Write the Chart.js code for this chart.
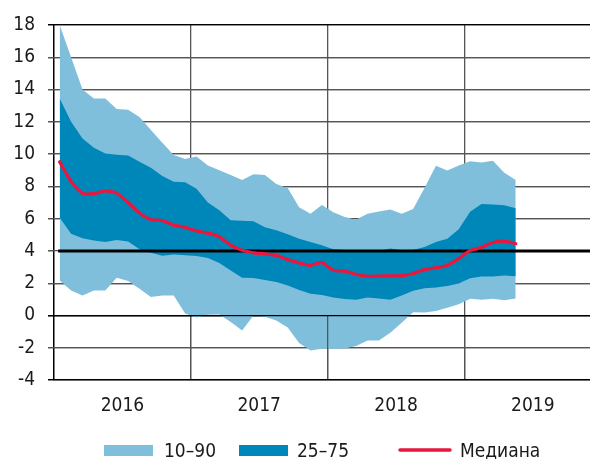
<!DOCTYPE html>
<html><head><meta charset="utf-8">
<script src="https://cdn.jsdelivr.net/npm/chart.js@4/dist/chart.umd.min.js"></script>
<style>html,body{margin:0;padding:0;background:#fff}#wrap{width:590px;height:459px}</style>
</head><body><div id="wrap"><canvas id="c" width="590" height="459"></canvas></div>
<script>
const months = ['2016-01','2016-02','2016-03','2016-04','2016-05','2016-06','2016-07','2016-08','2016-09','2016-10','2016-11','2016-12',
'2017-01','2017-02','2017-03','2017-04','2017-05','2017-06','2017-07','2017-08','2017-09','2017-10','2017-11','2017-12',
'2018-01','2018-02','2018-03','2018-04','2018-05','2018-06','2018-07','2018-08','2018-09','2018-10','2018-11','2018-12',
'2019-01','2019-02','2019-03','2019-04','2019-05'];
const years = [2016, 2017, 2018, 2019];
const yTicks = [-4, -2, 0, 2, 4, 6, 8, 10, 12, 14, 16, 18];
const p90 = [18.0,16.0,14.0,13.45,13.45,12.8,12.75,12.3,11.5,10.7,9.95,9.7,9.85,9.3,9.0,8.7,8.4,8.75,8.7,8.15,7.9,6.7,6.3,6.85,6.4,6.1,5.95,6.3,6.45,6.56,6.3,6.6,7.9,9.27,8.98,9.3,9.55,9.48,9.58,8.85,8.39];
const p75 = [13.45,12.0,10.97,10.4,10.04,9.96,9.92,9.52,9.15,8.65,8.28,8.26,7.85,7.0,6.52,5.9,5.87,5.84,5.47,5.28,5.03,4.76,4.55,4.35,4.1,4.05,4.0,4.0,4.0,4.15,4.05,4.05,4.25,4.55,4.76,5.35,6.42,6.9,6.88,6.83,6.65];
const median = [9.52,8.3,7.56,7.55,7.72,7.58,7.0,6.35,5.95,5.88,5.6,5.46,5.24,5.1,4.88,4.35,4.04,3.88,3.82,3.72,3.46,3.26,3.1,3.28,2.8,2.74,2.55,2.43,2.44,2.45,2.46,2.6,2.84,2.96,3.1,3.52,4.02,4.22,4.52,4.6,4.45];
const p25 = [6.05,5.07,4.78,4.64,4.55,4.68,4.58,4.1,3.88,3.7,3.78,3.73,3.68,3.56,3.25,2.78,2.34,2.32,2.2,2.07,1.85,1.58,1.35,1.26,1.12,1.02,0.97,1.12,1.05,0.97,1.24,1.53,1.68,1.74,1.83,1.98,2.3,2.42,2.42,2.48,2.43];
const p10 = [2.17,1.55,1.24,1.55,1.55,2.34,2.13,1.66,1.14,1.24,1.24,0.12,-0.12,0.04,0.06,-0.41,-0.93,0.0,-0.08,-0.31,-0.75,-1.7,-2.17,-2.07,-2.07,-2.07,-1.9,-1.55,-1.55,-1.07,-0.45,0.2,0.18,0.28,0.47,0.7,1.04,0.98,1.04,0.95,1.05];
const targetLevel = 4;
const legendLabels = ['10–90', '25–75', 'Медиана'];

const FONT = "'Liberation Sans Narrow','DejaVu Sans Condensed','Roboto Condensed','Liberation Sans',sans-serif";
const FSIZE = 19;
const LIGHT = '#80bfdc', DARK = '#0087b9', RED = '#e8173e', TXT = '#1a1a1a', GRID = '#555555';
const LW = 1.3;
const toX = m => { const [yy, mo] = m.split('-').map(Number); return yy + (mo - 0.5) / 12; };
const pts = arr => arr.map((v, i) => ({x: toX(months[i]), y: v}));
const xMin = years[0], xMax = years[0] + 3.918;
const NONE = 'rgba(0,0,0,0)';
const band = (data, extra) => Object.assign({data: pts(data), borderColor: NONE, borderWidth: 0, pointRadius: 0, tension: 0, fill: false}, extra);

const xTickVals = [];
years.forEach(v => { xTickVals.push(v); xTickVals.push(v + 0.5); });
const xGridColors = xTickVals.map(v => (v === years[0] ? '#000' : (v % 1 === 0 ? GRID : NONE)));
const yGridColors = yTicks.map(v => (v === 0 || v === 18 || v === -4 ? '#000' : GRID));
const align = p => Math.round(p - LW / 2) + LW / 2;

const overlay = {
  id: 'overlay',
  afterDatasetsDraw(chart) {
    const {ctx, chartArea: a, scales: {x, y}} = chart;
    const y0 = align(y.getPixelForValue(0));
    ctx.save();
    ctx.lineWidth = LW;
    ctx.strokeStyle = GRID;
    years.slice(1).forEach(v => {
      const px = align(x.getPixelForValue(v));
      ctx.beginPath(); ctx.moveTo(px, y0); ctx.lineTo(px, a.bottom); ctx.stroke();
    });
    ctx.restore();
  },
  afterDraw(chart) {
    const {ctx, chartArea: a, scales: {x, y}} = chart;
    // horizontal grid lines, kept outside the 10–90 band
    const top = chart.getDatasetMeta(0).data;
    const bot = chart.getDatasetMeta(1).data;
    ctx.save();
    ctx.beginPath();
    ctx.rect(a.left - 10, a.top - 5, a.right - a.left + 20, a.bottom - a.top + 10);
    ctx.moveTo(top[0].x, top[0].y);
    top.forEach(p => ctx.lineTo(p.x, p.y));
    for (let i = bot.length - 1; i >= 0; i--) ctx.lineTo(bot[i].x, bot[i].y);
    ctx.closePath();
    ctx.clip('evenodd');
    ctx.lineWidth = LW;
    yTicks.forEach((v, i) => {
      if (v === targetLevel) return;
      const py = align(y.getPixelForValue(v));
      ctx.strokeStyle = yGridColors[i];
      ctx.beginPath(); ctx.moveTo(a.left - 6, py); ctx.lineTo(a.right, py); ctx.stroke();
    });
    ctx.restore();
    // tick mark at 4 and the zero line on top
    ctx.save();
    ctx.lineWidth = LW;
    ctx.strokeStyle = GRID;
    const p4 = align(y.getPixelForValue(targetLevel));
    ctx.beginPath(); ctx.moveTo(a.left - 6, p4); ctx.lineTo(a.left, p4); ctx.stroke();
    const y0 = align(y.getPixelForValue(0));
    ctx.strokeStyle = '#000';
    ctx.beginPath(); ctx.moveTo(a.left - 6, y0); ctx.lineTo(a.right, y0); ctx.stroke();
    ctx.restore();
    // legend
    ctx.save();
    ctx.font = FSIZE + 'px ' + FONT;
    ctx.textBaseline = 'alphabetic';
    ctx.textAlign = 'left';
    const base = 457;
    ctx.fillStyle = LIGHT; ctx.fillRect(104, 445, 49, 11);
    ctx.fillStyle = TXT; ctx.fillText(legendLabels[0], 164, base);
    ctx.fillStyle = DARK; ctx.fillRect(239, 445, 49, 11);
    ctx.fillStyle = TXT; ctx.fillText(legendLabels[1], 297, base);
    ctx.strokeStyle = RED; ctx.lineWidth = 3.5; ctx.lineCap = 'round';
    ctx.beginPath(); ctx.moveTo(400, 450); ctx.lineTo(450, 450); ctx.stroke();
    ctx.fillStyle = TXT; ctx.fillText(legendLabels[2], 460, base);
    ctx.restore();
  }
};

new Chart(document.getElementById('c'), {
  type: 'line',
  data: {
    datasets: [
      band(p90, {label: '90', fill: {target: 1}, backgroundColor: LIGHT, order: 5}),
      band(p10, {label: '10', order: 6}),
      band(p75, {label: '75', fill: {target: 3}, backgroundColor: DARK, order: 4}),
      band(p25, {label: '25', order: 4}),
      {label: 'target', data: [{x: toX(months[0]) - 0.012, y: targetLevel}, {x: xMax, y: targetLevel}],
       borderColor: '#000', borderWidth: 3, pointRadius: 0, fill: false, order: 2},
      {label: 'Медиана', data: pts(median), borderColor: RED, borderWidth: 3.3, pointRadius: 0,
       tension: 0.2, fill: false, borderCapStyle: 'round', borderJoinStyle: 'round', order: 1}
    ]
  },
  options: {
    responsive: false,
    animation: false,
    layout: {padding: {top: 25, left: 0, right: 0, bottom: 0}},
    plugins: {legend: {display: false}, tooltip: {enabled: false}},
    scales: {
      x: {
        type: 'linear', min: xMin, max: xMax,
        afterBuildTicks: s => { s.ticks = xTickVals.map(v => ({value: v})); },
        afterFit: s => { s.height = 79; s.paddingLeft = 0; s.paddingRight = 0; },
        ticks: {autoSkip: false, maxRotation: 0, padding: 15, color: TXT, font: {family: FONT, size: FSIZE},
                callback: v => (v % 1 === 0.5 ? String(Math.floor(v)) : '')},
        grid: {display: true, drawOnChartArea: true, color: xGridColors, drawTicks: false, lineWidth: LW},
        border: {display: true, color: '#000', width: LW}
      },
      y: {
        type: 'linear', min: -4, max: 18,
        afterBuildTicks: s => { s.ticks = yTicks.map(v => ({value: v})); },
        afterFit: s => { s.width = 54; },
        ticks: {padding: 13, color: TXT, font: {family: FONT, size: FSIZE}},
        grid: {display: true, drawOnChartArea: true, color: yGridColors, tickColor: yGridColors, tickLength: 6, lineWidth: LW},
        border: {display: true, color: '#000', width: LW}
      }
    }
  },
  plugins: [overlay]
});
</script>
</body></html>
